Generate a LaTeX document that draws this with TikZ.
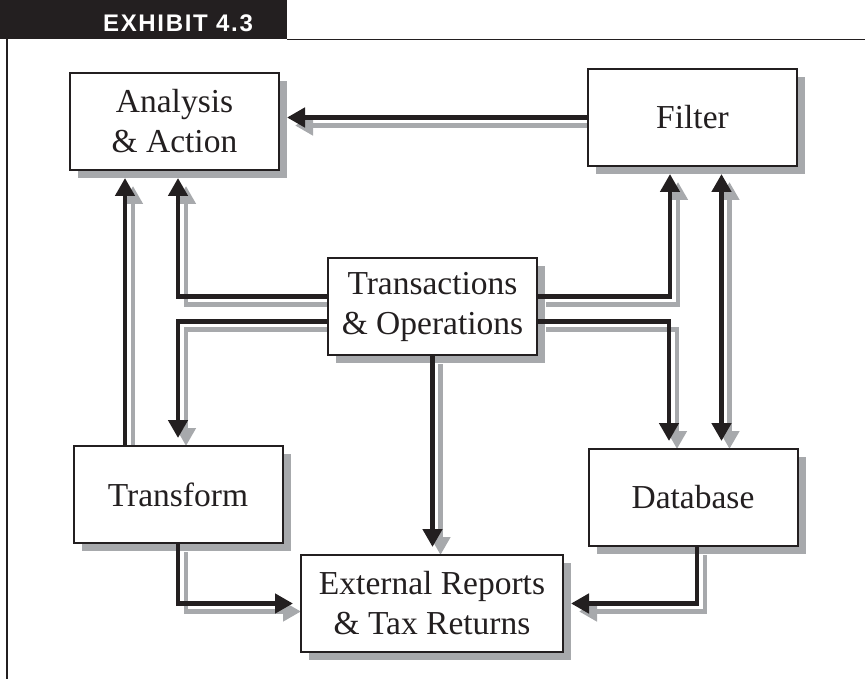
\documentclass[tikz,border=0pt]{standalone}
\usepackage{fontspec}
\setmainfont{Liberation Serif}
\newfontfamily\headfont[LetterSpace=7]{Liberation Sans}
\usetikzlibrary{arrows.meta,backgrounds,shadows}
\definecolor{shadowgray}{RGB}{167,169,172}
\definecolor{inkblack}{RGB}{35,31,32}
\tikzset{
  box/.style={draw=inkblack, line width=2pt, fill=white, text=inkblack,
    minimum width=209pt, minimum height=97pt, inner sep=0pt, align=center,
    font=\fontsize{33.5}{40}\selectfont,
    drop shadow={shadow xshift=8pt, shadow yshift=-8pt, fill=shadowgray, opacity=1}},
  inkline/.style={draw=inkblack, line width=4.5pt, line join=miter},
  shadeline/.style={draw=shadowgray, line width=4.5pt, line join=miter,
    transform canvas={xshift=8pt, yshift=-8pt}},
  into/.style={-{Triangle[length=18pt,width=19pt]}, shorten >=7pt},
  twoway/.style={{Triangle[length=18pt,width=19pt]}-{Triangle[length=18pt,width=19pt]},
    shorten >=7pt, shorten <=7pt}
}
% black connector with its grey copy underneath
\newcommand{\conn}[2][]{%
  \begin{scope}[on background layer]
    \draw[shadeline,#1] #2;
  \end{scope}
  \draw[inkline,#1] #2;}

\begin{document}
\begin{tikzpicture}[x=1pt, y=-1pt]
  \useasboundingbox (0,0) rectangle (865,679);
  % header and frame
  \fill[inkblack] (0,0) rectangle (287,39);
  \node[text=white, font=\headfont\bfseries\fontsize{24}{28}\selectfont] (Head) at (178,23.5) {EXHIBIT 4.3};
  \draw[inkblack, line width=1.5pt] (287,39.5) -- (865,39.5);
  \draw[inkblack, line width=1.5pt] (7,39.5) -- (7,679);

  \node[box] (Act) at (174.5,121.5) {Analysis\\\& Action};
  \node[box] (Filt) at (692.5,117.5) {Filter};
  \node[box] (Trans) at (432.5,306.5) {Transactions\\\& Operations};
  \node[box] (Xform) at (178,494.5) {Transform};
  \node[box] (DB) at (693,497.5) {Database};
  \node[box, minimum width=262pt] (Ext) at (432,603.5) {External Reports\\\& Tax Returns};

  \conn[into]{(Filt.west) -- (Filt.west -| Act.east)}
  \conn[into]{([xshift=-53pt]Xform.north) -- ([xshift=-53pt]Xform.north |- Act.south)}
  \conn[into]{([yshift=10pt]Trans.west) -| ([xshift=3.5pt]Act.south)}
  \conn[into]{([yshift=-15pt]Trans.west) -| (Xform.north)}
  \conn[into]{([yshift=10pt]Trans.east) -| ([xshift=-22.5pt]Filt.south)}
  \conn[into]{([yshift=-15pt]Trans.east) -| ([xshift=-24pt]DB.north)}
  \conn[twoway]{([xshift=29pt]Filt.south) -- ([xshift=29pt]Filt.south |- DB.north)}
  \conn[into]{(Trans.south) -- (Trans.south |- Ext.north)}
  \conn[into]{(Xform.south) |- (Ext.west)}
  \conn[into]{([xshift=4pt]DB.south) |- (Ext.east)}
\end{tikzpicture}
\end{document}
